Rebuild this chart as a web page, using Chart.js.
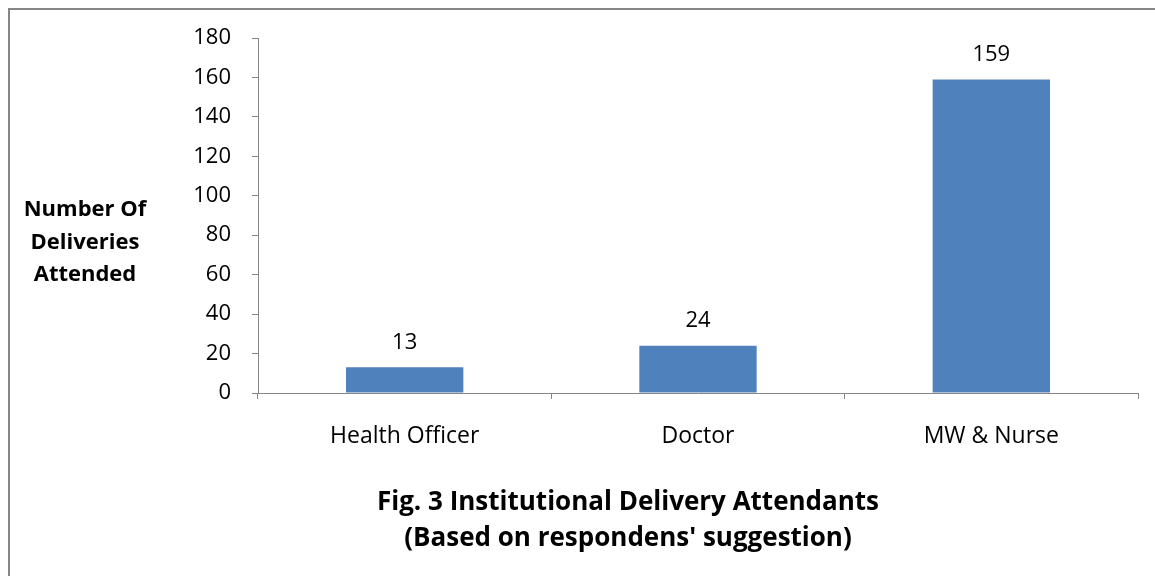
<!DOCTYPE html>
<html>
<head>
<meta charset="utf-8">
<script src="https://cdn.jsdelivr.net/npm/chart.js@4/dist/chart.umd.min.js"></script>
<style>
  body { margin: 0; background: #fff; }
  canvas { display: block; }
</style>
</head>
<body>
<canvas id="delivery-chart" width="1155" height="576"></canvas>
<script>
const categories = ["Health Officer", "Doctor", "MW & Nurse"];
const deliveries = [13, 24, 159];
const yTitleLines = ["Number Of", "Deliveries", "Attended"];
const titleLines = ["Fig. 3 Institutional Delivery Attendants", "(Based on respondens' suggestion)"];

const axisGray = "#868686";
const fontFam = "'Open Sans', sans-serif";

// frame, y title, caption under the chart and value labels over the bars
const extras = {
  id: "extras",
  beforeDraw(chart) {
    const ctx = chart.ctx;
    ctx.save();
    ctx.strokeStyle = axisGray;
    ctx.lineWidth = 2;
    ctx.strokeRect(9, 9, 1300, 1300);
    ctx.restore();
  },
  afterDatasetsDraw(chart) {
    const ctx = chart.ctx;
    ctx.save();
    ctx.fillStyle = "#000";
    ctx.textAlign = "center";
    ctx.textBaseline = "middle";
    ctx.font = "22px " + fontFam;
    chart.getDatasetMeta(0).data.forEach((bar, i) => {
      ctx.fillText(deliveries[i], bar.x, bar.y - 25);
    });
    ctx.font = "bold 22px " + fontFam;
    yTitleLines.forEach((line, i) => {
      ctx.fillText(line, 85, 210 + i * 32.5);
    });
    ctx.font = "bold 26px " + fontFam;
    titleLines.forEach((line, i) => {
      ctx.fillText(line, 628, 503 + i * 36);
    });
    ctx.restore();
  }
};

new Chart("delivery-chart", {
  type: "bar",
  data: {
    labels: categories,
    datasets: [{
      data: deliveries,
      backgroundColor: "#4F81BD",
      borderWidth: 0,
      barPercentage: 0.4,
      categoryPercentage: 1
    }]
  },
  options: {
    responsive: false,
    animation: false,
    layout: { padding: { left: 0, right: 17, top: 38, bottom: 88 } },
    plugins: {
      legend: { display: false },
      tooltip: { enabled: false },
      title: { display: false }
    },
    scales: {
      x: {
        grid: { drawOnChartArea: false, color: axisGray, tickLength: 6 },
        border: { color: axisGray },
        ticks: { color: "#000", padding: 24, font: { family: fontFam, size: 23 } },
        afterFit(scale) { scale.height = 95; }
      },
      y: {
        min: 0,
        max: 180,
        grid: { drawOnChartArea: false, color: axisGray, tickLength: 6 },
        border: { color: axisGray },
        ticks: { stepSize: 20, color: "#000", padding: 21, font: { family: fontFam, size: 22 } },
        afterFit(scale) { scale.width = 258; }
      }
    }
  },
  plugins: [extras]
});
</script>
</body>
</html>
